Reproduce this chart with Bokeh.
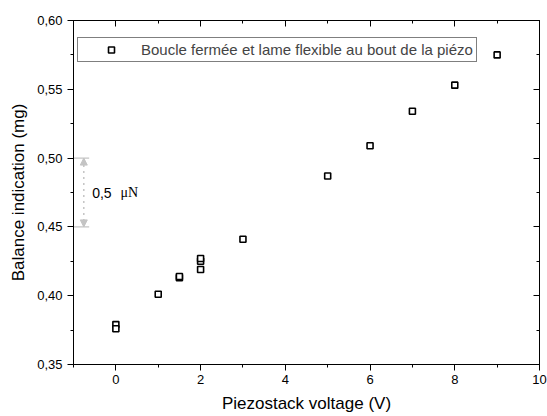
from bokeh.plotting import figure
from bokeh.models import (LinearAxis, FixedTicker, CustomJSTickFormatter, Range1d,
                          Legend, LegendItem, Arrow, NormalHead, ColumnDataSource)
from bokeh.core.properties import value
from bokeh.embed import file_html
from bokeh.resources import INLINE

# ---- data ----
voltage = [0, 0, 1, 1.5, 1.5, 2, 2, 2, 3, 5, 6, 7, 8, 9]
balance = [0.379, 0.376, 0.401, 0.413, 0.414, 0.425, 0.427, 0.419, 0.441,
           0.487, 0.509, 0.534, 0.553, 0.575]
series_label = "Boucle fermée et lame flexible au bout de la piézo"
x_label = "Piezostack voltage (V)"
y_label = "Balance indication (mg)"
x_major = [0, 2, 4, 6, 8, 10]
x_minor = [-1, 1, 3, 5, 7, 9]
y_major = [0.35, 0.40, 0.45, 0.50, 0.55, 0.60]
y_minor = [0.375, 0.425, 0.475, 0.525, 0.575]
scale_bar = [0.45, 0.50]
scale_text = "0,5"
scale_unit = "μN"

FONT = "Liberation Sans"

p = figure(frame_width=466, frame_height=344, output_backend="svg", toolbar_location=None,
           x_range=Range1d(-1, 10), y_range=Range1d(0.35, 0.60),
           min_border_left=73, min_border_right=8, min_border_top=20, min_border_bottom=52,
           x_axis_location=None, y_axis_location=None)
p.xgrid.visible = False
p.ygrid.visible = False
p.outline_line_color = "black"
p.outline_line_width = 1
p.background_fill_color = "white"
p.border_fill_color = "white"

yfmt = CustomJSTickFormatter(code="return tick.toFixed(2).replace('.', ',');")
blank = CustomJSTickFormatter(code="return '';")

def style(ax, labels=True):
    ax.axis_line_color = "black"
    ax.major_tick_line_color = "black"
    ax.minor_tick_line_color = "black"
    ax.major_label_text_font = FONT
    ax.major_label_text_font_size = "13px"
    ax.major_label_text_color = "black"
    ax.axis_label_text_font = FONT
    ax.axis_label_text_font_size = "17px"
    ax.axis_label_text_font_style = "normal"
    ax.axis_label_text_color = "black"
    if labels:
        ax.major_tick_out = 6
        ax.major_tick_in = 0
        ax.minor_tick_out = 3
        ax.minor_tick_in = 0
    else:
        ax.major_tick_out = 0
        ax.major_tick_in = 6
        ax.minor_tick_out = 0
        ax.minor_tick_in = 3
        ax.major_label_standoff = 0

xt = FixedTicker(ticks=x_major, minor_ticks=x_minor)
yt = FixedTicker(ticks=y_major, minor_ticks=y_minor)

bottom = LinearAxis(ticker=xt, axis_label=x_label)
style(bottom)
bottom.major_label_standoff = 4
bottom.axis_label_standoff = 7
left = LinearAxis(ticker=yt, formatter=yfmt, axis_label=y_label)
style(left)
left.major_label_standoff = 5
left.axis_label_standoff = 6
top = LinearAxis(ticker=xt, formatter=blank)
style(top, labels=False)
right = LinearAxis(ticker=yt, formatter=blank)
style(right, labels=False)
p.add_layout(bottom, "below")
p.add_layout(left, "left")
p.add_layout(top, "above")
p.add_layout(right, "right")

src = ColumnDataSource(dict(x=voltage, y=balance))
r = p.scatter("x", "y", source=src, marker="square", size=6, fill_color="white",
              line_color="black", line_width=1.6)

# scale bar annotation
p.segment(x0=[-1, -1], y0=scale_bar, x1=[-0.63, -0.63], y1=scale_bar,
          line_color="#c4c4c4", line_width=1.2)
p.add_layout(Arrow(x_start=-0.757, y_start=scale_bar[0], x_end=-0.757, y_end=scale_bar[1],
                   line_color="#c4c4c4", line_width=1.5, line_dash="dotted",
                   start=NormalHead(size=7, fill_color="#c4c4c4", line_color="#c4c4c4"),
                   end=NormalHead(size=7, fill_color="#c4c4c4", line_color="#c4c4c4")))
mid = (scale_bar[0] + scale_bar[1]) / 2
p.text(x=[-0.56], y=[mid], text=[scale_text], text_font=value(FONT), text_font_size="14px",
       text_baseline="middle", text_align="left", text_color="black")
p.text(x=[0.11], y=[mid], text=[scale_unit], text_font=value("Liberation Serif"),
       text_font_size="14px", text_baseline="middle", text_align="left", text_color="black")

legend = Legend(items=[LegendItem(label=series_label, renderers=[r])],
                location=(4, 302), padding=3, margin=0, glyph_width=60, glyph_height=15,
                label_height=15, label_standoff=-6, spacing=0,
                label_text_font=FONT, label_text_font_size="15px",
                border_line_color="black", border_line_width=1,
                background_fill_alpha=1)
p.add_layout(legend, "center")

open("out.html", "w").write(file_html(p, INLINE))
